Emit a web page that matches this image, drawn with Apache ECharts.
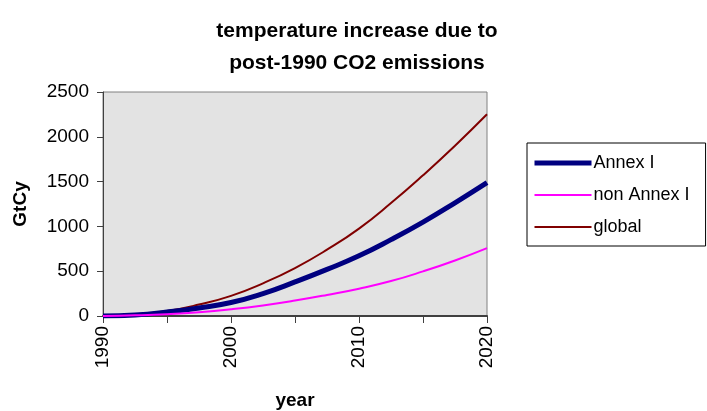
<!DOCTYPE html>
<html><head><meta charset="utf-8">
<script src="https://cdn.jsdelivr.net/npm/echarts@6/dist/echarts.min.js"></script>
<style>html,body{margin:0;padding:0;background:#fff}#c{width:707px;height:411px}</style>
</head><body><div id="c"></div>
<script>
const years = ['1990','1992.5','1995','1997.5','2000','2002.5','2005','2007.5','2010','2012.5','2015','2017.5','2020'];
const annexI =    [0, 12, 45,  90, 150, 250, 380, 520, 672,  852, 1048, 1263, 1488];
const nonAnnexI = [0,  7, 20,  42,  75, 118, 172, 235, 305,  390,  498,  620,  758];
const globalV =   [0, 18, 56, 128, 225, 365, 535, 740, 975, 1260, 1570, 1900, 2251];
const seriesNames = ['Annex I', 'non Annex I', 'global'];
const yTicks = [0, 500, 1000, 1500, 2000, 2500];

const font = 'Liberation Sans, Arial, sans-serif';
const chart = echarts.init(document.getElementById('c'));
chart.setOption({
  animation: false,
  backgroundColor: '#ffffff',
  title: {
    text: 'temperature increase due to\npost-1990 CO2 emissions',
    left: 352, top: 10, textAlign: 'center',
    textStyle: {fontFamily: font, fontWeight: 'bold', fontSize: 21, lineHeight: 32, color: '#000'}
  },
  legend: {
    orient: 'vertical', left: 527, top: 143,
    padding: [10, 16, 9, 5],
    borderColor: '#000', borderWidth: 1,
    itemWidth: 57, itemHeight: 14, itemGap: 12,
    itemStyle: {opacity: 0},
    textStyle: {fontFamily: font, fontSize: 18, lineHeight: 20, color: '#000', padding: [0, 0, 0, -3]},
    data: [
      {name: seriesNames[0], lineStyle: {width: 5, color: '#000080'}},
      {name: seriesNames[1], lineStyle: {width: 2, color: '#ff00ff'}},
      {name: seriesNames[2], lineStyle: {width: 2, color: '#800000'}}
    ]
  },
  grid: {left: 103, top: 92, width: 384, height: 224, show: true, outerBoundsMode: 'none', containLabel: false,
    backgroundColor: '#e3e3e3', borderColor: '#808080', borderWidth: 1},
  xAxis: {
    type: 'category', data: years, boundaryGap: false,
    name: 'year', nameLocation: 'middle', nameGap: 75,
    nameTextStyle: {fontFamily: font, fontWeight: 'bold', fontSize: 19, color: '#000'},
    axisLine: {lineStyle: {color: '#404040', width: 2}},
    axisTick: {show: true, interval: function (i) { return i % 2 === 0; }, length: 7, lineStyle: {color: '#404040', width: 1}},
    axisLabel: {interval: function (i) { return i % 4 === 0; }, rotate: 90, fontFamily: font, fontSize: 19, color: '#000', margin: 10},
    splitLine: {show: false}
  },
  yAxis: {
    type: 'value', min: yTicks[0], max: yTicks[yTicks.length-1], interval: 500,
    name: 'GtCy', nameLocation: 'middle', nameGap: 73, nameRotate: 90,
    nameTextStyle: {fontFamily: font, fontWeight: 'bold', fontSize: 19, color: '#000'},
    axisLine: {show: true, lineStyle: {color: '#404040', width: 1}},
    axisTick: {show: true, length: 6, lineStyle: {color: '#404040'}},
    axisLabel: {fontFamily: font, fontSize: 19, color: '#000', margin: 14, formatter: function (v) { return String(v); }},
    splitLine: {show: false}
  },
  series: [
    {name: seriesNames[0], type: 'line', data: annexI, smooth: true, symbol: 'none', z: 3,
     lineStyle: {color: '#000080', width: 5}, itemStyle: {color: '#000080'}},
    {name: seriesNames[1], type: 'line', data: nonAnnexI, smooth: true, symbol: 'none', z: 4,
     lineStyle: {color: '#ff00ff', width: 2}, itemStyle: {color: '#ff00ff'}},
    {name: seriesNames[2], type: 'line', data: globalV, smooth: true, symbol: 'none', z: 2,
     lineStyle: {color: '#800000', width: 2}, itemStyle: {color: '#800000'}}
  ]
});
</script></body></html>
